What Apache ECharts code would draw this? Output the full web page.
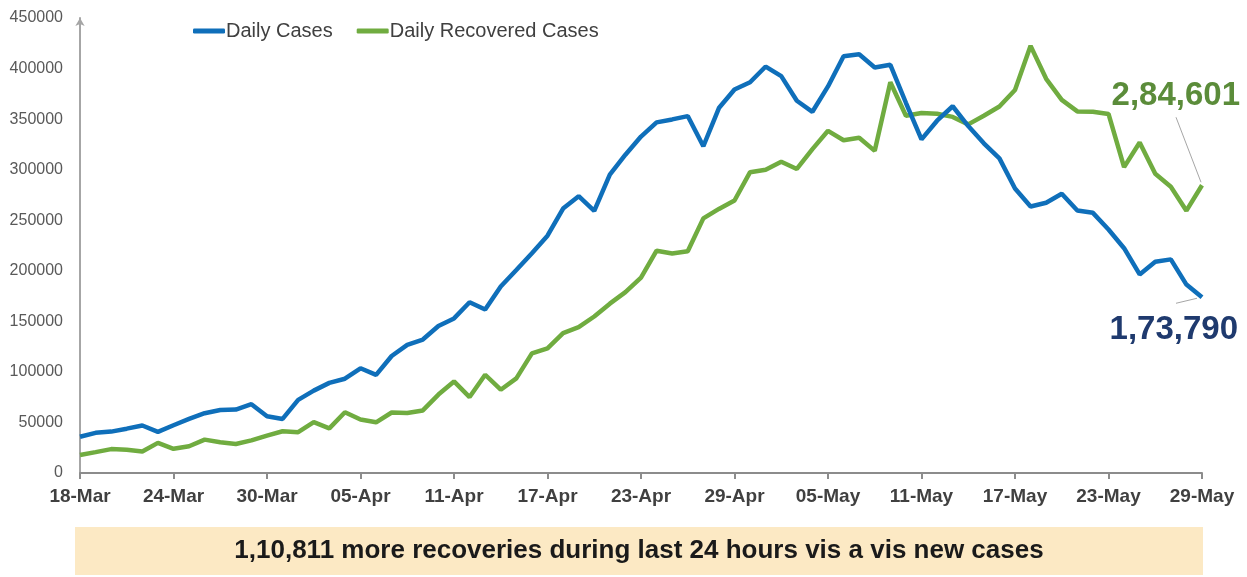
<!DOCTYPE html>
<html><head><meta charset="utf-8">
<script src="https://cdn.jsdelivr.net/npm/echarts@6/dist/echarts.min.js"></script>
<style>html,body{margin:0;padding:0;background:#fff}#c{width:1247px;height:577px}</style>
</head><body><div id="c"></div>
<script>
const dates = ['18-Mar','19-Mar','20-Mar','21-Mar','22-Mar','23-Mar','24-Mar','25-Mar','26-Mar','27-Mar','28-Mar','29-Mar','30-Mar','31-Mar',
'01-Apr','02-Apr','03-Apr','04-Apr','05-Apr','06-Apr','07-Apr','08-Apr','09-Apr','10-Apr','11-Apr','12-Apr','13-Apr','14-Apr','15-Apr',
'16-Apr','17-Apr','18-Apr','19-Apr','20-Apr','21-Apr','22-Apr','23-Apr','24-Apr','25-Apr','26-Apr','27-Apr','28-Apr','29-Apr','30-Apr',
'01-May','02-May','03-May','04-May','05-May','06-May','07-May','08-May','09-May','10-May','11-May','12-May','13-May','14-May','15-May',
'16-May','17-May','18-May','19-May','20-May','21-May','22-May','23-May','24-May','25-May','26-May','27-May','28-May','29-May'];

const dailyCases = [35871,39726,40953,43846,46951,40715,47262,53476,59118,62258,62714,68020,56211,53480,
72330,81466,89129,93249,103558,96982,115736,126789,131968,145384,152879,168912,161736,184372,200739,
217353,234692,261500,273810,259170,295041,314835,332730,346786,349691,352991,323144,360960,379257,386452,
401993,392488,368147,357229,382315,412262,414188,401078,403738,366161,329942,348421,362727,343144,326098,
311170,281386,263533,267334,276110,259551,257299,240842,222315,196427,208921,211298,186364,173790];

const dailyRecovered = [17741,20654,23653,22956,21180,29785,23907,26490,32987,30386,28739,32231,37028,41280,
40382,50356,44202,60048,52847,50143,59856,59258,61899,77567,90584,75086,97168,82339,93528,
118302,123354,138423,144178,154761,167457,178841,193279,219838,217113,219272,251827,261162,269507,297540,
299988,307865,300732,320289,338439,329113,331507,318609,386444,353299,356082,355338,352181,344776,353299,
362437,378741,422436,389851,369077,357630,357295,355102,302544,326850,295955,283135,259459,284601];

const seriesNames = ['Daily Cases', 'Daily Recovered Cases'];
const bannerText = '1,10,811 more recoveries during last 24 hours vis a vis new cases';

function indianFormat(n) {
  const s = String(Math.round(n));
  if (s.length <= 3) return s;
  const last3 = s.slice(-3);
  let rest = s.slice(0, -3);
  const parts = [];
  while (rest.length > 2) { parts.unshift(rest.slice(-2)); rest = rest.slice(0, -2); }
  if (rest) parts.unshift(rest);
  return parts.join(',') + ',' + last3;
}

const FONT = '"Liberation Sans", Arial, sans-serif';
const BLUE = '#0f6fba';
const GREEN = '#70ac40';

const chart = echarts.init(document.getElementById('c'), null, {renderer: 'canvas'});
chart.setOption({
  animation: false,
  backgroundColor: '#ffffff',
  textStyle: {fontFamily: FONT},
  grid: {left: 80, right: 45, top: 18, bottom: 104, outerBoundsMode: 'none'},
  legend: {
    left: 188, top: 16, itemWidth: 32, itemHeight: 5, itemGap: 24, icon: 'roundRect',
    textStyle: {fontSize: 20, color: '#404040', fontFamily: FONT, padding: [0,0,0,-4]},
    data: seriesNames
  },
  xAxis: {
    type: 'category', data: dates, boundaryGap: false,
    axisLine: {lineStyle: {color: '#8c8c8c', width: 2}},
    axisTick: {show: true, interval: 5, length: 6, lineStyle: {color: '#8c8c8c', width: 2}},
    axisLabel: {interval: 5, margin: 14, fontSize: 19, fontWeight: 'bold', color: '#404040', fontFamily: FONT}
  },
  yAxis: {
    type: 'value', min: 0, max: 450000, interval: 50000,
    splitLine: {show: false},
    axisLine: {show: true, symbol: ['none', 'arrow'], symbolSize: [7, 8], lineStyle: {color: '#a6a6a6', width: 2}},
    axisTick: {show: false},
    axisLabel: {margin: 17, fontSize: 16, color: '#595959', fontFamily: FONT, formatter: v => String(v)}
  },
  series: [
    {name: seriesNames[0], type: 'line', data: dailyCases, symbol: 'none', showSymbol: false,
     lineStyle: {color: BLUE, width: 4.5}, itemStyle: {color: BLUE}, z: 3},
    {name: seriesNames[1], type: 'line', data: dailyRecovered, symbol: 'none', showSymbol: false,
     lineStyle: {color: GREEN, width: 4.5}, itemStyle: {color: GREEN}, z: 2}
  ]
});

const last = dates.length - 1;
const pC = chart.convertToPixel({seriesIndex: 0}, [last, dailyCases[last]]);
const pR = chart.convertToPixel({seriesIndex: 1}, [last, dailyRecovered[last]]);

chart.setOption({
  graphic: [
    {type: 'line', shape: {x1: pR[0] - 26, y1: pR[1] - 68, x2: pR[0] - 1, y2: pR[1] - 3},
     style: {stroke: '#a6a6a6', lineWidth: 1}, z: 10},
    {type: 'text', x: pR[0] + 38, y: pR[1] - 89,
     style: {text: indianFormat(dailyRecovered[last]), font: 'bold 33px ' + FONT, fill: '#5b8c3a', align: 'right', verticalAlign: 'middle'}, z: 10},
    {type: 'line', shape: {x1: pC[0] - 26, y1: pC[1] + 6, x2: pC[0] - 5, y2: pC[1] + 1},
     style: {stroke: '#a6a6a6', lineWidth: 1}, z: 10},
    {type: 'text', x: pC[0] + 36, y: pC[1] + 33,
     style: {text: indianFormat(dailyCases[last]), font: 'bold 33px ' + FONT, fill: '#1f3a6e', align: 'right', verticalAlign: 'middle'}, z: 10},
    {type: 'rect', shape: {x: 75, y: 527, width: 1128, height: 48}, style: {fill: '#fce9c4'}, z: 1},
    {type: 'text', x: 639, y: 551,
     style: {text: bannerText, font: 'bold 26px ' + FONT, fill: '#1a1a1a', align: 'center', verticalAlign: 'middle'}, z: 2}
  ]
});
</script>
</body></html>
